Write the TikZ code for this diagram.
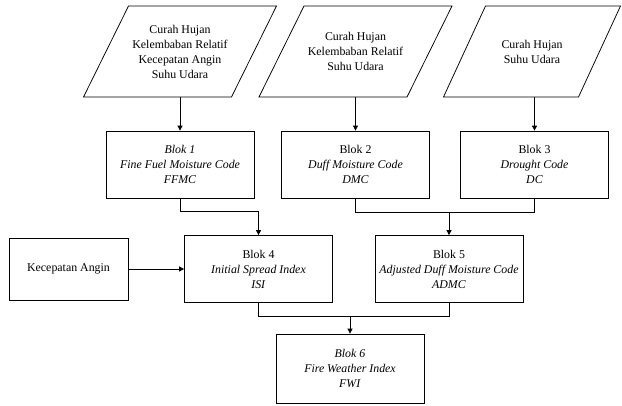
\documentclass[tikz,border=0pt]{standalone}
\usepackage{fontspec}
\setmainfont{Liberation Serif}
\usetikzlibrary{arrows.meta,positioning}

\tikzset{
    blok/.style={draw, line width=0.6pt, minimum width=118.4pt, minimum height=53.6pt, align=center, inner sep=2pt},
    masukan/.style={minimum width=110pt, minimum height=72.8pt, align=center, inner sep=0pt},
    panah/.style={line width=0.6pt, -{Triangle[length=4pt,width=4pt]}},
    garis/.style={line width=0.6pt}
}

\begin{document}
\begin{tikzpicture}[x=0.8pt, y=-0.8pt, font=\fontsize{9.5}{12}\selectfont]
    \useasboundingbox (0,0) rectangle (622,405);

    % Input data
    \node[masukan] (p1) at (180,51.5) {Curah Hujan\\Kelembaban Relatif\\Kecepatan Angin\\Suhu Udara};
    \node[masukan] (p2) at (355.5,51.5) {Curah Hujan\\Kelembaban Relatif\\Suhu Udara};
    \node[masukan] (p3) at (532,51.5) {Curah Hujan\\Suhu Udara};
    \foreach \n/\h/\w in {p1/96.5/148, p2/96.5/148, p3/88.5/135} {
        \draw[garis, shift={(\n)}] (-\h,45.5) -- ({\w-\h},45.5) -- (\h,-45.5) -- ({\h-\w},-45.5) -- cycle;
    }

    % Blok 1-3
    \node[blok] (b1) at (180,164.5) {\textit{Blok 1}\\\textit{Fine Fuel Moisture Code}\\\textit{FFMC}};
    \node[blok] (b2) at (355.5,164.5) {Blok 2\\\textit{Duff Moisture Code}\\\textit{DMC}};
    \node[blok] (b3) at (534.5,164.5) {Blok 3\\\textit{Drought Code}\\\textit{DC}};

    % Blok 4-6
    \node[blok, minimum width=95.2pt, minimum height=49.6pt] (ka) at (68.5,269) {Kecepatan Angin};
    \node[blok] (b4) at (258.5,269) {Blok 4\\\textit{Initial Spread Index}\\\textit{ISI}};
    \node[blok] (b5) at (449,269) {Blok 5\\\textit{Adjusted Duff Moisture Code}\\\textit{ADMC}};
    \node[blok, minimum height=55.2pt] (b6) at (350,368.5) {\textit{Blok 6}\\\textit{Fire Weather Index}\\\textit{FWI}};

    % Junctions
    \coordinate (j1) at (258.5,211);
    \coordinate (j2) at (449,212);
    \coordinate (j3) at (350,316);

    % Connectors
    \foreach \a/\b in {p1/b1, p2/b2, p3/b3} {
        \draw[panah] (\a.south -| \b.north) -- (\b.north);
    }
    \draw[panah] (b1.south) |- (j1) -- (b4.north);
    \draw[garis] (b2.south) |- (j2);
    \draw[garis] (b3.south) |- (j2);
    \draw[panah] (j2) -- (b5.north);
    \draw[panah] (ka.east) -- (b4.west);
    \draw[garis] (b4.south) |- (j3);
    \draw[garis] (b5.south) |- (j3);
    \draw[panah] (j3) -- (b6.north);

\end{tikzpicture}
\end{document}
